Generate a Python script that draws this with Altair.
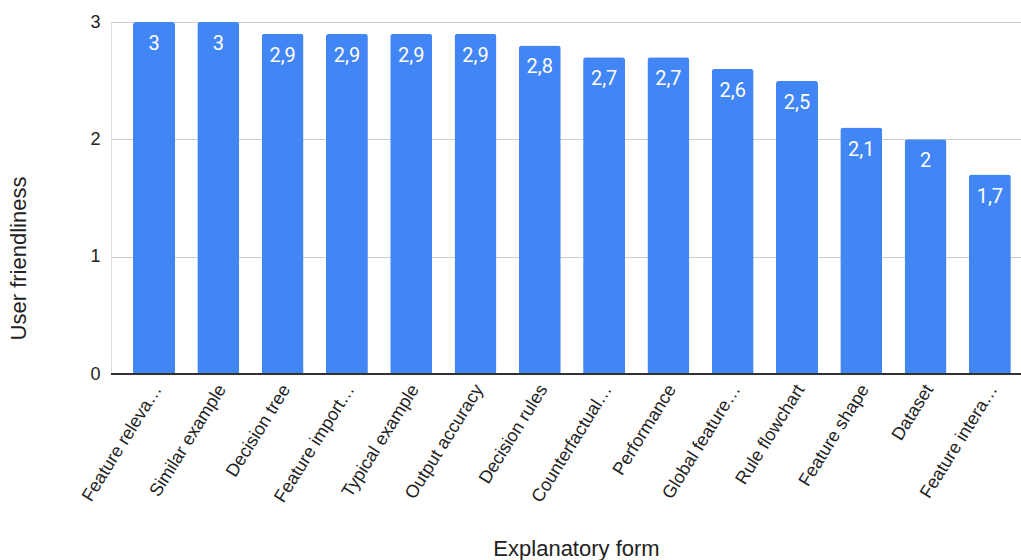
import altair as alt
import pandas as pd

categories = [
    "Feature releva…", "Similar example", "Decision tree", "Feature import…",
    "Typical example", "Output accuracy", "Decision rules", "Counterfactual…",
    "Performance", "Global feature…", "Rule flowchart", "Feature shape",
    "Dataset", "Feature intera…",
]
values = [3, 3, 2.9, 2.9, 2.9, 2.9, 2.8, 2.7, 2.7, 2.6, 2.5, 2.1, 2, 1.7]

df = pd.DataFrame({"form": categories, "value": values})

xscale = alt.Scale(paddingInner=0.347, paddingOuter=0.25, align=0.685)
x = alt.X("form:N", sort=None, scale=xscale, title="Explanatory form",
          axis=alt.Axis(labelAngle=-58, labelAlign="right", labelBaseline="middle",
                        labelFont="Liberation Sans", labelFontSize=18, labelColor="#222222",
                        labelPadding=12, labelOffset=4, ticks=False, domain=False, labelLimit=300,
                        titleFont="Liberation Sans", titleFontSize=22, titleFontWeight="normal",
                        titleColor="#222222", titleX=465, titleY=174, titleBaseline="middle",
                        titleAnchor="middle", titleAlign="center"))
y = alt.Y("value:Q", scale=alt.Scale(domain=[0, 3], nice=False), title="User friendliness",
          axis=alt.Axis(values=[0, 1, 2, 3], format="d", ticks=False, domain=False,
                        gridColor="#cccccc", gridWidth=1,
                        labelFont="Liberation Sans", labelFontSize=18, labelColor="#222222",
                        labelPadding=11,
                        titleFont="Liberation Sans", titleFontSize=22, titleFontWeight="normal",
                        titleColor="#222222", titleX=-93, titleY=236, titleBaseline="middle",
                        titleAngle=-90, titleAnchor="middle", titleAlign="center"))

bars = alt.Chart(df).mark_bar(color="#4285F4", cornerRadiusTopLeft=3,
                              cornerRadiusTopRight=3).encode(x=x, y=y)

labels = alt.Chart(df).transform_calculate(
    lab="replace(toString(datum.value), '.', ',')"
).mark_text(color="white", font="Roboto", fontSize=20, baseline="middle",
            align="center", dy=22).encode(
    x=alt.X("form:N", sort=None, scale=xscale),
    y=alt.Y("value:Q"),
    text="lab:N",
)

baseline = alt.Chart(df).mark_rule(color="#333333", strokeWidth=1).encode(
    y=alt.datum(0)
)

chart = alt.layer(bars, labels, baseline).properties(
    width=910, height=352,
    autosize=alt.AutoSizeParams(type="none"),
    padding={"left": 111, "top": 22, "right": 0, "bottom": 186},
).configure_view(stroke=None).configure(background="white")

chart.save("out.html", embed_options={"renderer": "svg", "actions": False})
